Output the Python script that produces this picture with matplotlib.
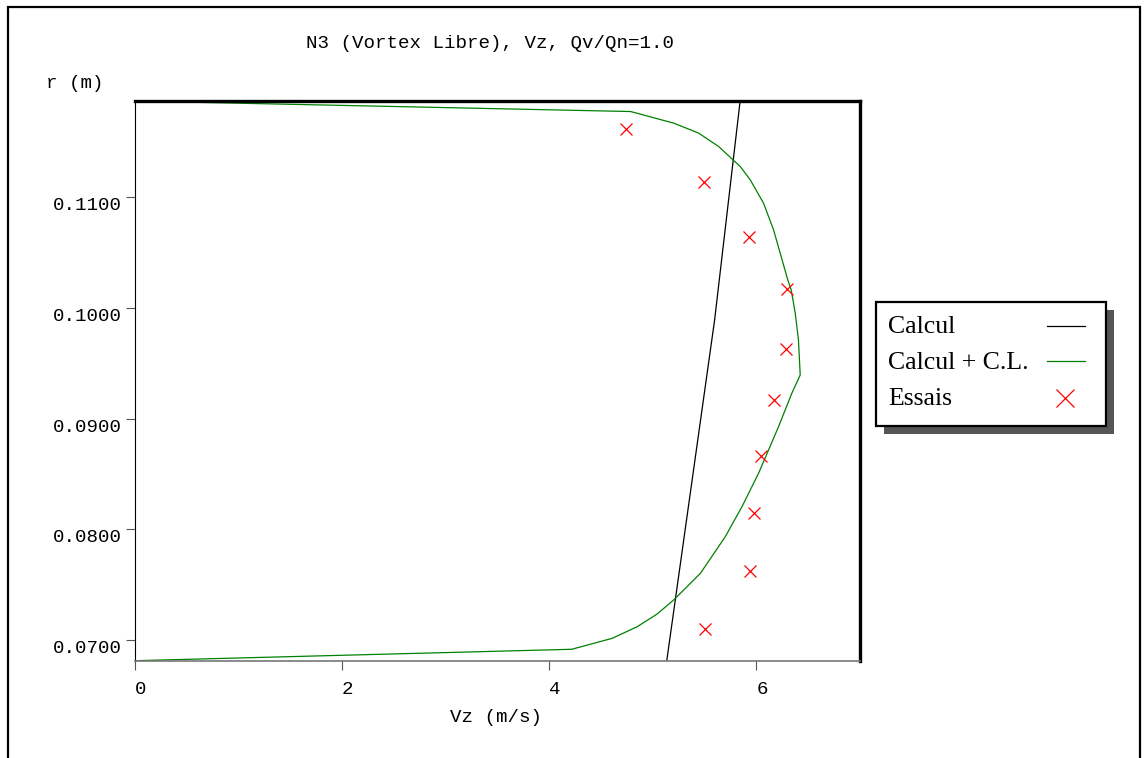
import matplotlib.pyplot as plt
from matplotlib.lines import Line2D
from matplotlib.patches import Rectangle

# Calcul (sans couche limite)
calc_vz = [5.135, 5.597, 5.843]
calc_r = [0.06816, 0.09891, 0.11866]

# Calcul + C.L.
cl_vz = [0.0, 4.217, 4.609, 4.850, 5.042, 5.209, 5.460, 5.700, 5.861, 6.021,
         6.214, 6.342, 6.423, 6.406, 6.375, 6.336, 6.303, 6.166, 6.069, 5.941,
         5.845, 5.636, 5.443, 5.203, 4.786, 0.0]
cl_r = [0.06816, 0.06919, 0.07018, 0.07123, 0.07237, 0.07370, 0.07605, 0.07935,
        0.08206, 0.08507, 0.08928, 0.09229, 0.09394, 0.09710, 0.09951, 0.10162,
        0.10252, 0.10703, 0.10944, 0.11154, 0.11274, 0.11455, 0.11576, 0.11666,
        0.11771, 0.11866]

# Essais
exp_vz = [4.741, 5.492, 5.932, 6.294, 6.281, 6.169, 6.047, 5.973, 5.937, 5.508]
exp_r = [0.11615, 0.11134, 0.10640, 0.10168, 0.09632, 0.09169, 0.08663,
         0.08146, 0.07628, 0.07102]

x_ticks = [0, 2, 4, 6]
y_ticks = [0.07, 0.08, 0.09, 0.10, 0.11]

mono = 'Liberation Mono'
W, H = 1144, 758

fig = plt.figure(figsize=(11.44, 7.58), dpi=100)
ax = fig.add_axes([134.7 / W, 1 - 660.7 / H, (860 - 134.7) / W, (660.7 - 101) / H])

ax.plot(calc_vz, calc_r, color='black', lw=0.9)
ax.plot(cl_vz, cl_r, color='#008000', lw=0.9)
ax.plot(exp_vz, exp_r, ls='none', marker='x', ms=8, mew=0.9, color='red')

ax.set_xlim(0, 7)
ax.set_ylim(0.06816, 0.11866)
ax.set_xticks(x_ticks)
ax.set_xticklabels([str(v) for v in x_ticks], fontfamily=mono, fontsize=13.8, ha='left')
ax.set_yticks(y_ticks)
ax.set_yticklabels(['%.4f' % v for v in y_ticks], fontfamily=mono, fontsize=13.8, va='top')
ax.tick_params(direction='out', length=6.3, width=0.8, color='#555555')
ax.tick_params(axis='x', pad=8)
ax.tick_params(axis='y', pad=3)

ax.spines['left'].set_linewidth(0.8)
ax.spines['bottom'].set_linewidth(1.2)
ax.spines['bottom'].set_color('#777777')
ax.spines['top'].set_linewidth(2.4)
ax.spines['right'].set_linewidth(2.4)

fig.text(490 / W, 1 - 43 / H, 'N3 (Vortex Libre), Vz, Qv/Qn=1.0',
         family=mono, fontsize=13.8, ha='center', va='center')
fig.text(46 / W, 1 - 83 / H, 'r (m)', family=mono, fontsize=13.8, va='center')
fig.text(450 / W, 1 - 717 / H, 'Vz (m/s)', family=mono, fontsize=13.8, va='center')

# outer frame
fig.patches.append(Rectangle((8 / W, -0.2), (1140 - 8) / W, 1.2 - 7 / H,
                             transform=fig.transFigure, fill=False, ec='black',
                             lw=1.6, clip_on=False))

# legend box with shadow
lx0, lx1, ly0, ly1 = 876, 1106, 302, 426
fig.patches.append(Rectangle(((lx0 + 8) / W, 1 - (ly1 + 8) / H), (lx1 - lx0) / W,
                             (ly1 - ly0) / H, transform=fig.transFigure,
                             fc='#555555', ec='#555555', lw=0))
fig.patches.append(Rectangle((lx0 / W, 1 - ly1 / H), (lx1 - lx0) / W,
                             (ly1 - ly0) / H, transform=fig.transFigure,
                             fc='white', ec='black', lw=1.6))
labels = ['Calcul', 'Calcul + C.L.', 'Essais']
baselines = [333, 369, 405]
for lab, yb in zip(labels, baselines):
    fig.text(888 / W, 1 - yb / H, lab, family='Liberation Serif', fontsize=18.5,
             va='baseline', ha='left')
fig.lines.append(Line2D([1047 / W, 1085 / W], [1 - 326 / H] * 2,
                        transform=fig.transFigure, color='black', lw=0.9))
fig.lines.append(Line2D([1047 / W, 1085 / W], [1 - 361 / H] * 2,
                        transform=fig.transFigure, color='#008000', lw=0.9))
fig.lines.append(Line2D([1065 / W], [1 - 398 / H], transform=fig.transFigure,
                        ls='none', marker='x', ms=13, mew=0.9, color='red'))

fig.savefig('out.png', dpi=100)
